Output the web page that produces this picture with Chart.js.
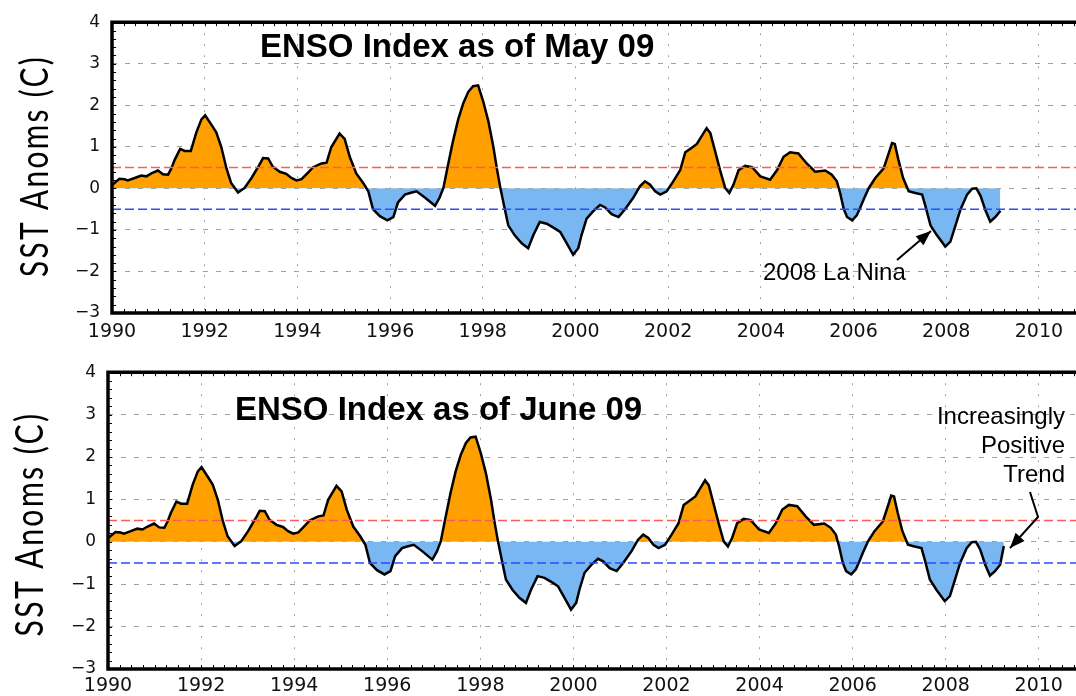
<!DOCTYPE html>
<html>
<head>
<meta charset="utf-8">
<script src="https://cdn.jsdelivr.net/npm/chart.js@4.4.1/dist/chart.umd.min.js"></script>
<style>
  html, body { margin: 0; padding: 0; background: #fff; }
  body { width: 1076px; height: 696px; position: relative; overflow: hidden; }
  canvas { position: absolute; left: 0; }
  #top { top: 0; }
  #bottom { top: 350px; }
</style>
</head>
<body>
<canvas id="top" width="1076" height="350"></canvas>
<canvas id="bottom" width="1076" height="346"></canvas>
<script>
// ENSO index readings (decimal year, SST anomaly in C), as of May 09
const years = [
  1990.00, 1990.16, 1990.27, 1990.34, 1990.49, 1990.63, 1990.74, 1990.85, 1990.99,
  1991.10, 1991.21, 1991.28, 1991.35, 1991.47, 1991.57, 1991.70, 1991.82, 1991.93,
  1992.01, 1992.14, 1992.25, 1992.36, 1992.47, 1992.57, 1992.72, 1992.86,
  1993.01, 1993.17, 1993.26, 1993.37, 1993.47, 1993.62, 1993.76, 1993.87, 1993.98,
  1994.09, 1994.23, 1994.34, 1994.52, 1994.63, 1994.73, 1994.91,
  1995.02, 1995.13, 1995.27, 1995.42, 1995.53, 1995.63, 1995.78, 1995.94,
  1996.07, 1996.17, 1996.32, 1996.43, 1996.57, 1996.75, 1996.97,
  1997.07, 1997.15, 1997.25, 1997.36, 1997.47, 1997.58, 1997.69, 1997.79, 1997.90,
  1998.01, 1998.12, 1998.23, 1998.31, 1998.38, 1998.46, 1998.55, 1998.69, 1998.84, 1998.98,
  1999.09, 1999.23, 1999.38, 1999.56, 1999.67, 1999.81, 1999.95,
  2000.06, 2000.13, 2000.24, 2000.39, 2000.53, 2000.64, 2000.78, 2000.93,
  2001.07, 2001.25, 2001.39, 2001.50, 2001.61, 2001.72, 2001.83, 2001.97,
  2002.11, 2002.26, 2002.37, 2002.51, 2002.62, 2002.73, 2002.83, 2002.91,
  2003.01, 2003.12, 2003.23, 2003.32, 2003.41, 2003.52, 2003.66, 2003.81, 2003.99,
  2004.20, 2004.35, 2004.49, 2004.63, 2004.81, 2004.99,
  2005.17, 2005.39, 2005.53, 2005.64, 2005.71, 2005.79, 2005.86, 2005.97,
  2006.07, 2006.15, 2006.22, 2006.33, 2006.47, 2006.65, 2006.76, 2006.83, 2006.89, 2006.97,
  2007.07, 2007.19, 2007.33, 2007.48, 2007.55, 2007.66, 2007.80, 2007.98,
  2008.09, 2008.20, 2008.31, 2008.45, 2008.56, 2008.65, 2008.74, 2008.85, 2008.95,
  2009.06, 2009.17
];
const anoms = [
  0.08, 0.23, 0.22, 0.19, 0.25, 0.31, 0.29, 0.36, 0.43,
  0.34, 0.33, 0.48, 0.68, 0.95, 0.90, 0.90, 1.35, 1.66,
  1.76, 1.54, 1.35, 0.99, 0.48, 0.13, -0.10, 0.01,
  0.25, 0.55, 0.73, 0.72, 0.52, 0.40, 0.35, 0.25, 0.19,
  0.22, 0.38, 0.51, 0.60, 0.62, 0.99, 1.32,
  1.19, 0.76, 0.36, 0.13, -0.07, -0.50, -0.67, -0.77,
  -0.69, -0.34, -0.15, -0.11, -0.07, -0.22, -0.42,
  -0.22, 0.01, 0.56, 1.15, 1.66, 2.05, 2.33, 2.46, 2.48,
  2.09, 1.62, 0.99, 0.44, 0.01, -0.42, -0.89, -1.13, -1.32, -1.44,
  -1.13, -0.81, -0.85, -0.97, -1.05, -1.32, -1.60,
  -1.44, -1.13, -0.73, -0.54, -0.40, -0.46, -0.62, -0.69,
  -0.50, -0.22, 0.05, 0.17, 0.09, -0.07, -0.15, -0.07,
  0.17, 0.44, 0.87, 0.98, 1.07, 1.27, 1.45, 1.33,
  0.91, 0.44, 0.01, -0.11, 0.09, 0.44, 0.54, 0.51, 0.29,
  0.21, 0.44, 0.76, 0.87, 0.84, 0.60,
  0.40, 0.43, 0.33, 0.17, -0.11, -0.50, -0.69, -0.77,
  -0.65, -0.45, -0.26, 0.01, 0.25, 0.48, 0.85, 1.09, 1.07, 0.68,
  0.25, -0.07, -0.11, -0.15, -0.42, -0.89, -1.13, -1.40,
  -1.28, -0.89, -0.50, -0.15, -0.01, 0.00, -0.18, -0.54, -0.80,
  -0.69, -0.54
];
// the June 09 update adds one more month
const juneYears = [2009.25];
const juneAnoms = [-0.10];

const yearTicks = [1990, 1992, 1994, 1996, 1998, 2000, 2002, 2004, 2006, 2008, 2010];
const xRange = [1990, 2010.8];
const yRange = [-3, 4];
const warmLevel = 0.5;
const coldLevel = -0.5;

function drawArrow(ctx, pts) {
  ctx.beginPath();
  ctx.moveTo(pts[0][0], pts[0][1]);
  for (let i = 1; i < pts.length; i++) ctx.lineTo(pts[i][0], pts[i][1]);
  ctx.stroke();
  const [x1, y1] = pts[pts.length - 2];
  const [x2, y2] = pts[pts.length - 1];
  const a = Math.atan2(y2 - y1, x2 - x1);
  ctx.beginPath();
  ctx.moveTo(x2, y2);
  ctx.lineTo(x2 - 15 * Math.cos(a) + 6 * Math.sin(a), y2 - 15 * Math.sin(a) - 6 * Math.cos(a));
  ctx.lineTo(x2 - 15 * Math.cos(a) - 6 * Math.sin(a), y2 - 15 * Math.sin(a) + 6 * Math.cos(a));
  ctx.closePath();
  ctx.fill();
}

const decor = {
  id: 'decor',
  afterDraw(chart, args, o) {
    const ctx = chart.ctx;
    const a = chart.chartArea;
    const xs = chart.scales.x, ys = chart.scales.y;
    ctx.save();
    // frame with small inner ticks
    ctx.strokeStyle = '#000';
    ctx.lineWidth = 3.5;
    ctx.beginPath();
    ctx.moveTo(a.right, a.top);
    ctx.lineTo(a.left, a.top);
    ctx.lineTo(a.left, a.bottom);
    ctx.lineTo(a.right, a.bottom);
    ctx.stroke();
    ctx.lineWidth = 1;
    ctx.beginPath();
    for (let t = 1990.25; t < 2010.8; t += 0.25) {
      const px = Math.round(xs.getPixelForValue(t)) + 0.5;
      ctx.moveTo(px, a.top); ctx.lineTo(px, a.top + 4);
      ctx.moveTo(px, a.bottom); ctx.lineTo(px, a.bottom - 4);
    }
    for (let v = -2.8; v < 4; v += 0.2) {
      const py = Math.round(ys.getPixelForValue(v)) + 0.5;
      ctx.moveTo(a.left, py); ctx.lineTo(a.left + 4, py);
    }
    ctx.stroke();

    ctx.fillStyle = '#000';
    // y axis title, tall and spaced
    ctx.save();
    ctx.translate(o.yTitle.x, o.yTitle.y);
    ctx.rotate(-Math.PI / 2);
    ctx.font = '400 38px Lato, "Liberation Sans", Arial, sans-serif';
    ctx.letterSpacing = '3px';
    const w = ctx.measureText('SST Anoms (C)').width;
    ctx.scale(o.yTitle.len / w, 1);
    ctx.textAlign = 'center';
    ctx.textBaseline = 'alphabetic';
    ctx.fillText('SST Anoms (C)', 0, 0);
    ctx.restore();

    // panel title
    ctx.font = 'bold 33px "Liberation Sans", Arial, sans-serif';
    ctx.textAlign = 'left';
    ctx.textBaseline = 'alphabetic';
    ctx.fillText(o.title.text, o.title.x, o.title.y);

    // notes and arrows
    ctx.font = '24px "Liberation Sans", Arial, sans-serif';
    ctx.textAlign = o.note.align;
    o.note.lines.forEach((s, i) => ctx.fillText(s, o.note.x, o.note.y + i * 29));
    ctx.lineWidth = 2;
    drawArrow(ctx, o.arrow);
    ctx.restore();
  }
};

function makeChart(id, xVals, yVals, layout, decorOpts) {
  const series = xVals.map((x, i) => ({ x: x, y: yVals[i] }));
  const level = v => [{ x: xRange[0], y: v }, { x: xRange[1], y: v }];
  return new Chart(document.getElementById(id), {
    type: 'line',
    data: {
      datasets: [{
        data: level(warmLevel),
        borderColor: '#ff5a5a',
        borderWidth: 1.5,
        borderDash: [9, 4],
        pointRadius: 0,
        fill: false,
        order: 0
      }, {
        data: level(coldLevel),
        borderColor: '#2a4dff',
        borderWidth: 1.5,
        borderDash: [9, 4],
        pointRadius: 0,
        fill: false,
        order: 0
      }, {
        data: series,
        borderColor: '#000',
        borderWidth: 2.5,
        pointRadius: 0,
        tension: 0,
        fill: { target: { value: 0 }, above: '#ff9f00', below: '#79b7f3' },
        order: 1
      }]
    },
    options: {
      responsive: false,
      animation: false,
      devicePixelRatio: 1,
      layout: { padding: { top: layout.top, right: 0, bottom: 0, left: 0 } },
      plugins: {
        legend: { display: false },
        tooltip: { enabled: false },
        decor: decorOpts
      },
      scales: {
        x: {
          type: 'linear',
          min: xRange[0],
          max: xRange[1],
          z: 1,
          afterBuildTicks: s => { s.ticks = yearTicks.map(v => ({ value: v })); },
          afterFit: s => { s.height = layout.xHeight; },
          ticks: {
            callback: v => String(v),
            font: { family: '"DejaVu Sans", sans-serif', size: 19 },
            color: '#111',
            padding: layout.xPad,
            maxRotation: 0,
            autoSkip: false
          },
          grid: { color: '#a0a0a0', lineWidth: 1, drawTicks: false },
          border: { display: false, dash: [2, 9] }
        },
        y: {
          min: yRange[0],
          max: yRange[1],
          z: 1,
          afterFit: s => { s.width = layout.left; },
          ticks: {
            stepSize: 1,
            callback: v => (v < 0 ? '\u2212' + Math.abs(v) : String(v)),
            font: { family: '"DejaVu Sans", sans-serif', size: 17 },
            color: '#111',
            padding: 12
          },
          grid: { color: '#a0a0a0', lineWidth: 1, drawTicks: false },
          border: { display: false, dash: [5, 8] }
        }
      }
    },
    plugins: [decor]
  });
}

makeChart('top', years, anoms,
  { top: 15, left: 112, xHeight: 37, xPad: 8 },
  {
    yTitle: { x: 48, y: 166, len: 222 },
    title: { text: 'ENSO Index as of May 09', x: 260, y: 57 },
    note: { lines: ['2008 La Nina'], x: 763, y: 280, align: 'left' },
    arrow: [[897, 260], [931, 231]]
  });

makeChart('bottom', years.concat(juneYears), anoms.concat(juneAnoms),
  { top: 21, left: 108, xHeight: 27, xPad: 6 },
  {
    yTitle: { x: 43, y: 174, len: 225 },
    title: { text: 'ENSO Index as of June 09', x: 235, y: 70 },
    note: { lines: ['Increasingly', 'Positive', 'Trend'], x: 1065, y: 74, align: 'right' },
    arrow: [[1030, 142], [1038, 167], [1010, 198]]
  });
</script>
</body>
</html>
